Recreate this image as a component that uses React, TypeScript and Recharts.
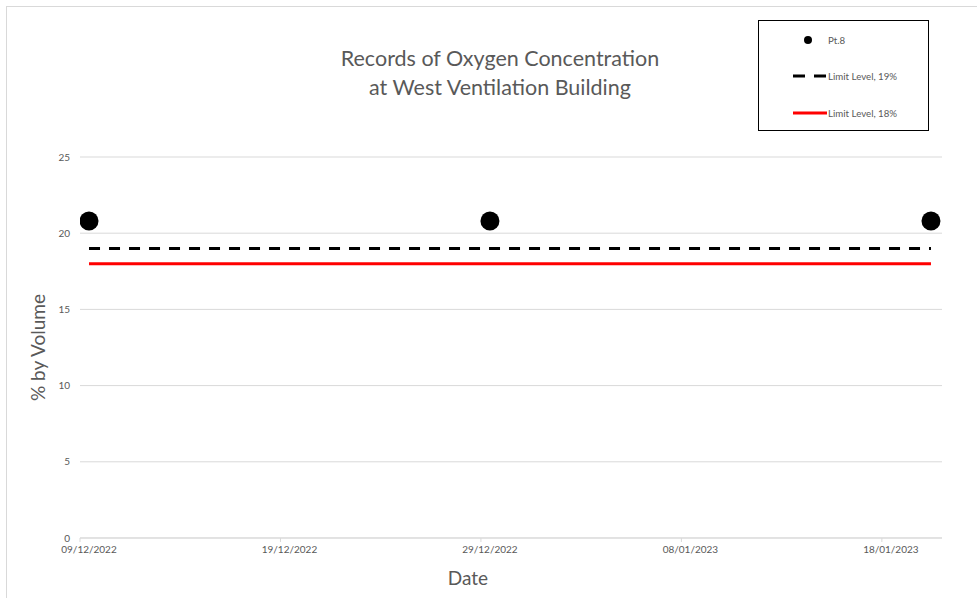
import React from 'react';
import { ComposedChart, Line, Scatter, XAxis, YAxis, CartesianGrid, Label } from 'recharts';

const START_DATE = '09/12/2022';
const END_DATE = '20/01/2023';
const pt8Dates = ['09/12/2022', '29/12/2022', '20/01/2023'];
const pt8Values = [20.8, 20.8, 20.8];
const limitDates = ['09/12/2022', '20/01/2023'];
const limit19Values = [19, 19];
const limit18Values = [18, 18];
const xTickDates = ['09/12/2022', '19/12/2022', '29/12/2022', '08/01/2023', '18/01/2023'];
const yTicks = [0, 5, 10, 15, 20, 25];

const FONT = 'Lato, "Open Sans", sans-serif';
const GREY = '#595959';

function toUTC(s: string): number {
  const [d, m, y] = s.split('/').map(Number);
  return Date.UTC(y, m - 1, d);
}
function dayIndex(s: string): number {
  return Math.round((toUTC(s) - toUTC(START_DATE)) / 86400000);
}
// each date occupies a one-day slot; points sit near the slot centre
const slot = (s: string) => dayIndex(s) + 0.45;

const pt8Data = pt8Dates.map((d, i) => ({ x: slot(d), y: pt8Values[i] }));
const limit19Data = limitDates.map((d, i) => ({ x: slot(d), y: limit19Values[i] }));
const limit18Data = limitDates.map((d, i) => ({ x: slot(d), y: limit18Values[i] }));
const xTicks = xTickDates.map(dayIndex);
const xLabelMap: Record<number, string> = {};
xTickDates.forEach((d) => (xLabelMap[dayIndex(d)] = d));
const xDomain = [0, dayIndex(END_DATE) + 1];

const XTick = (props: any) => {
  const { x, y, payload } = props;
  return (
    <text x={x + 9} y={y} dy="0.71em" textAnchor="middle" fontSize={10} fill={GREY} fontFamily={FONT}>
      {xLabelMap[payload.value]}
    </text>
  );
};

const Dot = (props: any) => <circle cx={props.cx} cy={props.cy} r={9.5} fill="#000" />;

export default function App() {
  return (
    <div style={{ position: 'absolute', left: 0, top: 0, width: 977, height: 598, background: '#fff', fontFamily: FONT, overflow: 'hidden' }}>
      <div style={{ position: 'absolute', left: 6, top: 6, width: 1000, height: 700, borderLeft: '1px solid #d9d9d9', borderTop: '1px solid #d9d9d9' }} />
      <div style={{ position: 'absolute', left: 0, top: 0 }}>
        <ComposedChart width={977} height={598} margin={{ top: 157, right: 35, bottom: 0, left: 0 }}>
          <CartesianGrid vertical={false} stroke="#d9d9d9" />
          <XAxis
            type="number"
            dataKey="x"
            domain={xDomain}
            ticks={xTicks}
            allowDataOverflow
            height={60}
            axisLine={{ stroke: '#d9d9d9' }}
            tickLine={{ stroke: '#d9d9d9' }}
            tickSize={4}
            tickMargin={4}
            tick={<XTick />}
          >
            <Label value="Date" position="insideBottom" offset={13} dx={-43} fontSize={19} fill={GREY} fontFamily={FONT} />
          </XAxis>
          <YAxis
            type="number"
            dataKey="y"
            domain={[0, 25]}
            ticks={yTicks}
            width={80}
            axisLine={false}
            tickLine={false}
            tickMargin={4}
            tick={{ fontSize: 10, fill: GREY, fontFamily: FONT }}
          >
            <Label
              content={(p: any) => {
                const vb = p.viewBox;
                const cx = 37;
                const cy = vb.y + vb.height / 2;
                return (
                  <text x={cx} y={cy} transform={`rotate(-90 ${cx} ${cy})`} textAnchor="middle" dominantBaseline="central" fontSize={19} fill={GREY} fontFamily={FONT}>
                    % by Volume
                  </text>
                );
              }}
            />
          </YAxis>
          <Line data={limit19Data} dataKey="y" type="linear" stroke="#000" strokeWidth={3} strokeDasharray="11 9" dot={false} activeDot={false} isAnimationActive={false} />
          <Line data={limit18Data} dataKey="y" type="linear" stroke="#ff0000" strokeWidth={3} dot={false} activeDot={false} isAnimationActive={false} />
          <Scatter data={pt8Data} dataKey="y" shape={<Dot />} isAnimationActive={false} />
        </ComposedChart>
      </div>
      <div style={{ position: 'absolute', left: 250, top: 44, width: 500, textAlign: 'center', fontSize: 21.5, lineHeight: '29px', color: GREY }}>
        Records of Oxygen Concentration
        <br />
        at West Ventilation Building
      </div>
      <div style={{ position: 'absolute', left: 758, top: 20, width: 169, height: 109, border: '1px solid #000' }}>
        <svg width={169} height={109} style={{ position: 'absolute', left: 0, top: 0 }}>
          <circle cx={49} cy={19} r={4} fill="#000" />
          <line x1={34} x2={67} y1={55} y2={55} stroke="#000" strokeWidth={3} strokeDasharray="12 9" />
          <line x1={34} x2={68} y1={92} y2={92} stroke="#ff0000" strokeWidth={3} />
          <text x={69} y={19} dominantBaseline="central" fontSize={9.7} fill={GREY} fontFamily={FONT}>Pt.8</text>
          <text x={69} y={55} dominantBaseline="central" fontSize={9.7} fill={GREY} fontFamily={FONT}>Limit Level, 19%</text>
          <text x={69} y={92} dominantBaseline="central" fontSize={9.7} fill={GREY} fontFamily={FONT}>Limit Level, 18%</text>
        </svg>
      </div>
    </div>
  );
}
